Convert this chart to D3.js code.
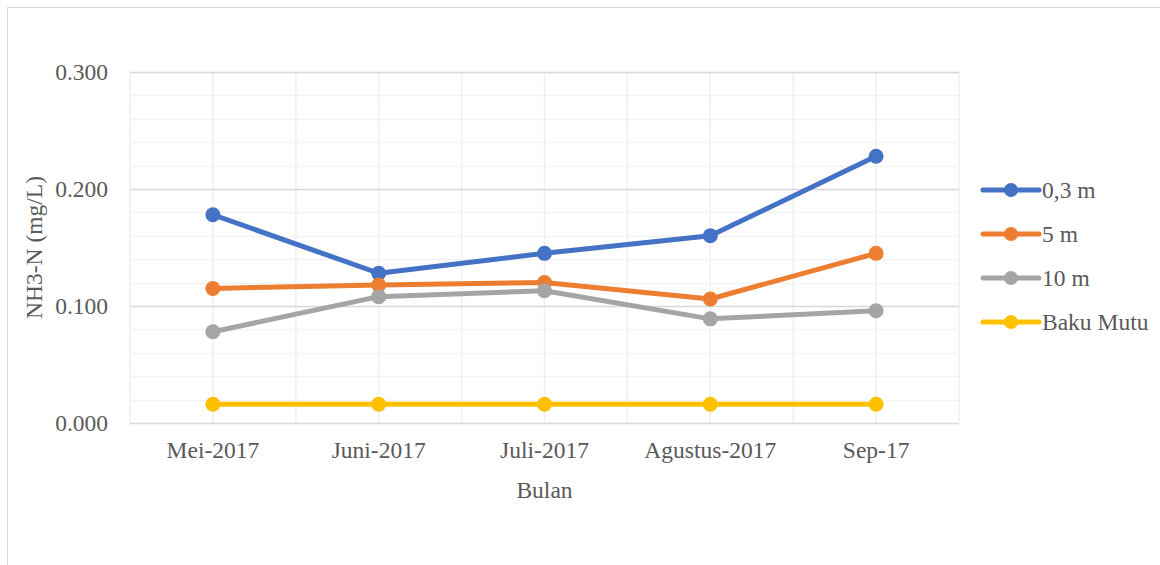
<!DOCTYPE html>
<html>
<head>
<meta charset="utf-8">
<script src="https://cdn.jsdelivr.net/npm/d3@7"></script>
<style>
  body { margin: 0; background: #fff; }
  svg { display: block; font-family: "Liberation Serif", "Times New Roman", serif; }
</style>
</head>
<body>
<div id="chart"></div>
<script>
const months = ['Mei-2017', 'Juni-2017', 'Juli-2017', 'Agustus-2017', 'Sep-17'];
const seriesNames = ['0,3 m', '5 m', '10 m', 'Baku Mutu'];
const depth03 = [0.178, 0.128, 0.145, 0.160, 0.228];
const depth5 = [0.115, 0.118, 0.120, 0.106, 0.145];
const depth10 = [0.078, 0.108, 0.113, 0.089, 0.096];
const bakuMutu = [0.016, 0.016, 0.016, 0.016, 0.016];
const yTicks = [0, 0.1, 0.2, 0.3];
const colors = ['#4472C4', '#ED7D31', '#A5A5A5', '#FFC000'];

const series = [depth03, depth5, depth10, bakuMutu].map((values, i) => ({
    name: seriesNames[i],
    color: colors[i],
    values: values.map((v, j) => ({ month: months[j], value: v }))
}));

const width = 1160, height = 565;
const margin = { top: 72, right: 201, bottom: 142, left: 130 };
const fontSize = 23.5;

const svg = d3.select('#chart').append('svg')
    .attr('width', width)
    .attr('height', height);

// chart border
svg.append('rect')
    .attr('x', 7.5).attr('y', 7.5)
    .attr('width', width + 20).attr('height', height + 20)
    .attr('fill', 'none')
    .attr('stroke', '#d9d9d9');

const x = d3.scaleBand()
    .domain(months)
    .range([margin.left, width - margin.right]);

const y = d3.scaleLinear()
    .domain([0, 0.3])
    .range([height - margin.bottom, margin.top]);

const grid = svg.append('g');

// minor horizontal grid
grid.selectAll('line.hminor')
    .data(d3.range(0, 0.3001, 0.02))
    .enter().append('line')
    .attr('x1', margin.left).attr('x2', width - margin.right)
    .attr('y1', d => Math.round(y(d)) + 0.5).attr('y2', d => Math.round(y(d)) + 0.5)
    .attr('stroke', '#f2f2f2').attr('stroke-width', 1.5);

// vertical grid: band edges and centers
const vx = [];
months.forEach(m => { vx.push(x(m)); vx.push(x(m) + x.bandwidth() / 2); });
vx.push(x.range()[1]);
grid.selectAll('line.v')
    .data(vx)
    .enter().append('line')
    .attr('x1', d => d).attr('x2', d => d)
    .attr('y1', margin.top).attr('y2', height - margin.bottom)
    .attr('stroke', '#efefef').attr('stroke-width', 1.5);

// major horizontal grid
grid.selectAll('line.hmajor')
    .data(yTicks)
    .enter().append('line')
    .attr('x1', margin.left).attr('x2', width - margin.right)
    .attr('y1', d => Math.round(y(d)) + 0.5).attr('y2', d => Math.round(y(d)) + 0.5)
    .attr('stroke', '#d9d9d9').attr('stroke-width', 1.5);

// y axis labels
const yAxis = svg.append('g')
    .attr('transform', `translate(${margin.left},0)`)
    .call(d3.axisLeft(y).tickValues(yTicks).tickFormat(d3.format('.3f')).tickSize(0).tickPadding(22));
yAxis.select('.domain').remove();
yAxis.selectAll('text')
    .attr('font-size', fontSize).attr('fill', '#595959')
    .attr('font-family', '"Liberation Serif", serif');

// x axis labels
const xAxis = svg.append('g')
    .attr('transform', `translate(0,${height - margin.bottom})`)
    .call(d3.axisBottom(x).tickSize(0).tickPadding(18));
xAxis.select('.domain').remove();
xAxis.selectAll('text')
    .attr('font-size', fontSize).attr('fill', '#595959')
    .attr('font-family', '"Liberation Serif", serif');

// axis titles
svg.append('text')
    .attr('x', (margin.left + width - margin.right) / 2)
    .attr('y', 498)
    .attr('text-anchor', 'middle')
    .attr('font-size', fontSize).attr('fill', '#595959')
    .text('Bulan');

svg.append('text')
    .attr('transform', `translate(42,${(margin.top + height - margin.bottom) / 2}) rotate(-90)`)
    .attr('text-anchor', 'middle')
    .attr('font-size', fontSize).attr('fill', '#595959')
    .text('NH3-N (mg/L)');

const line = d3.line()
    .x(d => x(d.month) + x.bandwidth() / 2)
    .y(d => y(d.value));

const lines = svg.append('g');
series.forEach(s => {
    lines.append('path')
        .datum(s.values)
        .attr('fill', 'none')
        .attr('stroke', s.color)
        .attr('stroke-width', 5)
        .attr('stroke-linejoin', 'round')
        .attr('stroke-linecap', 'round')
        .attr('d', line);
    lines.selectAll(null)
        .data(s.values)
        .enter().append('circle')
        .attr('cx', d => x(d.month) + x.bandwidth() / 2)
        .attr('cy', d => y(d.value))
        .attr('r', 7.5)
        .attr('fill', s.color);
});

// legend
const legend = svg.append('g').attr('transform', 'translate(983,190)');
const rows = legend.selectAll('g')
    .data(series)
    .enter().append('g')
    .attr('transform', (d, i) => `translate(0,${i * 44})`);
rows.append('line')
    .attr('x1', 0).attr('x2', 56)
    .attr('stroke', d => d.color)
    .attr('stroke-width', 5)
    .attr('stroke-linecap', 'round');
rows.append('circle')
    .attr('cx', 28).attr('r', 7)
    .attr('fill', d => d.color);
rows.append('text')
    .attr('x', 59).attr('dy', '0.35em')
    .attr('font-size', fontSize).attr('fill', '#595959')
    .text(d => d.name);
</script>
</body>
</html>
